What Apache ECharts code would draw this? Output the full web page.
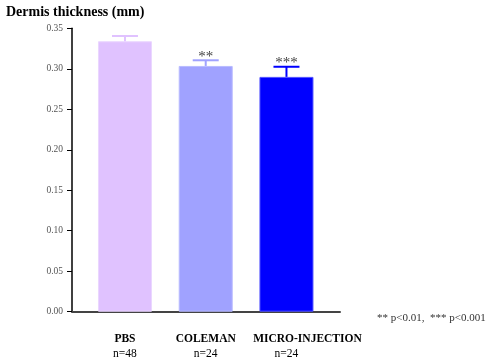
<!DOCTYPE html>
<html>
<head>
<meta charset="utf-8">
<script src="https://cdn.jsdelivr.net/npm/echarts@6/dist/echarts.min.js"></script>
<style>html,body{margin:0;padding:0;background:#fff}#c{width:500px;height:363px}</style>
</head>
<body>
<div id="c"></div>
<script>
const categories = ['PBS', 'COLEMAN', 'MICRO-INJECTION'];
const sampleSizes = ['n=48', 'n=24', 'n=24'];
const means = [0.334, 0.3035, 0.290];
const errors = [0.0065, 0.007, 0.0125];
const stars = ['', '**', '***'];
const colors = ['#E0C2FF', '#A0A2FF', '#0000FF'];
const borderColors = ['#EAD6FF', '#B8BAFF', '#5050FF'];
const yTicks = { min: 0, max: 0.35, interval: 0.05 };

const serif = '"Liberation Serif", "DejaVu Serif", serif';
const chart = echarts.init(document.getElementById('c'), null, { renderer: 'canvas' });

const positions = categories.map((c, i) => i + 1);
// horizontal shift of each category name (the long last label sits right of its bar)
const nameShift = [0, 0, 0.26];
const namePositions = positions.map((p, i) => p + nameShift[i]);
const xRange = { min: 0.344, max: 3.663 };

chart.setOption({
  animation: false,
  backgroundColor: '#fff',
  title: {
    text: 'Dermis thickness (mm)',
    left: 1, top: 0,
    textStyle: { fontFamily: serif, fontWeight: 'bold', fontSize: 14, color: '#000' }
  },
  graphic: [{
    type: 'text', left: 377, top: 313,
    style: { text: '** p<0.01,  *** p<0.001', font: '11px ' + serif, fill: '#333' }
  }],
  grid: { left: 72, right: 160, top: 28.3, bottom: 51.3 },
  xAxis: [{
    type: 'value', min: xRange.min, max: xRange.max,
    axisLine: { show: true, onZero: false, lineStyle: { color: '#444', width: 2 } },
    axisTick: { show: false },
    splitLine: { show: false },
    axisLabel: {
      customValues: namePositions,
      showMinLabel: true, showMaxLabel: true,
      margin: 21,
      formatter: v => categories[Math.round(v) - 1],
      fontFamily: serif, fontWeight: 'bold', fontSize: 11.5, color: '#000'
    }
  }, {
    type: 'value', min: xRange.min, max: xRange.max, position: 'bottom',
    axisLine: { show: false },
    axisTick: { show: false },
    splitLine: { show: false },
    axisLabel: {
      customValues: positions,
      showMinLabel: true, showMaxLabel: true,
      margin: 36,
      formatter: v => sampleSizes[Math.round(v) - 1],
      fontFamily: serif, fontSize: 11.5, color: '#000'
    }
  }],
  yAxis: {
    type: 'value', min: yTicks.min, max: yTicks.max, interval: yTicks.interval,
    axisLine: { show: true, lineStyle: { color: '#000', width: 1.5 } },
    axisTick: { show: true, length: 5, lineStyle: { color: '#000', width: 1 } },
    splitLine: { show: false },
    axisLabel: {
      margin: 9, fontFamily: serif, fontSize: 9.5, color: '#555',
      formatter: v => v.toFixed(2)
    }
  },
  series: [{
    type: 'bar',
    barWidth: 54,
    xAxisIndex: 0,
    data: means.map((m, i) => ({
      value: [positions[i], m],
      itemStyle: { color: colors[i], borderColor: borderColors[i], borderWidth: 1 }
    }))
  }, {
    type: 'custom',
    xAxisIndex: 0,
    data: means.map((m, i) => [positions[i], m, errors[i], i]),
    renderItem: (params, api) => {
      const x = api.value(0), m = api.value(1), e = api.value(2), i = api.value(3);
      const base = api.coord([x, m]);
      const top = api.coord([x, m + e]);
      const col = colors[i];
      const children = [
        { type: 'line', shape: { x1: base[0], y1: base[1], x2: top[0], y2: top[1] }, style: { stroke: col, lineWidth: 2 } },
        { type: 'line', shape: { x1: top[0] - 13, y1: top[1], x2: top[0] + 13, y2: top[1] }, style: { stroke: col, lineWidth: 2 } }
      ];
      if (stars[i]) {
        children.push({
          type: 'text',
          style: { text: stars[i], x: top[0], y: top[1] + 4, align: 'center', verticalAlign: 'bottom', font: '15px ' + serif, fill: '#444' }
        });
      }
      return { type: 'group', children };
    },
    z: 3
  }]
});
</script>
</body>
</html>
